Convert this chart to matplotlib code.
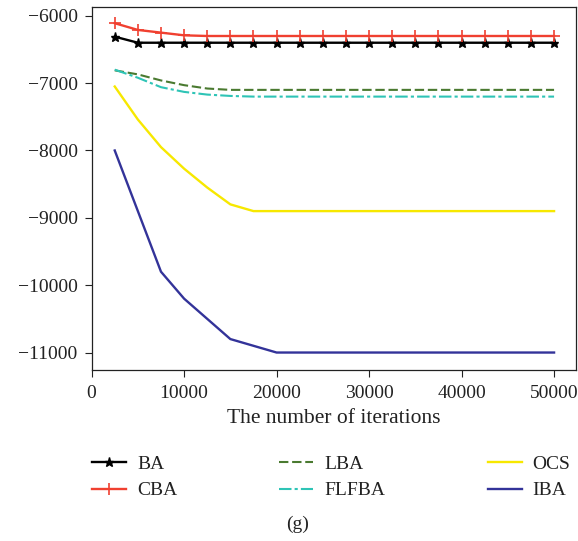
import matplotlib
matplotlib.use("Agg")
import matplotlib.pyplot as plt

plt.rcParams['font.family'] = ['Liberation Serif', 'DejaVu Serif']
plt.rcParams['mathtext.fontset'] = 'stix'

iterations = [2500 * i for i in range(1, 21)]

ba = [-6310] + [-6400] * 19
cba = [-6110, -6210, -6250, -6290] + [-6300] * 16
lba = [-6810, -6870, -6960, -7030, -7080, -7100] + [-7100] * 14
flfba = [-6800, -6920, -7060, -7130, -7170, -7190] + [-7200] * 14
ocs = [-7050, -7540, -7950, -8270, -8550, -8800, -8900] + [-8900] * 13
iba = [-8000, -8900, -9800, -10200, -10500, -10800, -10900, -11000] + [-11000] * 12

fig = plt.figure(figsize=(5.78, 5.41), dpi=100)
ax = fig.add_axes([0.1585, 0.316, 0.8385, 0.671])

ax.plot(iterations, ba, color='black', lw=1.7, marker='*', ms=6.5, label='BA')
ax.plot(iterations, cba, color='#f04030', lw=1.7, marker='+', ms=8, mew=1.2, label='CBA')
ax.plot(iterations, lba, color='#4a7a30', lw=1.5, ls=(0, (4.5, 1.8)), label='LBA')
ax.plot(iterations, flfba, color='#2ec4b6', lw=1.5, ls=(0, (6, 1.5, 1.5, 1.5)), label='FLFBA')
ax.plot(iterations, ocs, color='#f7e800', lw=1.7, label='OCS')
ax.plot(iterations, iba, color='#333399', lw=1.7, label='IBA')

ax.set_xlim(0, 52400)
ax.set_ylim(-11260, -5870)
ax.set_xticks([0, 10000, 20000, 30000, 40000, 50000])
ax.set_xticklabels(['0', '10000', '20000', '30000', '40000', '50000'])
ax.set_yticks([-6000, -7000, -8000, -9000, -10000, -11000])
ax.set_yticklabels(['\u22126000', '\u22127000', '\u22128000', '\u22129000', '\u221210000', '\u221211000'])
ax.tick_params(direction='out', length=5, width=0.8, labelsize=14, colors='#222222')
ax.tick_params(axis='x', pad=6)
ax.tick_params(axis='y', pad=5)
for s in ax.spines.values():
    s.set_linewidth(0.9)
    s.set_color('#222222')

ax.set_xlabel('The number of iterations', fontsize=15.5, color='#222222', labelpad=5)

leg = fig.legend(loc='upper left', bbox_to_anchor=(0.159, 0.158), ncol=3, frameon=False,
                 fontsize=14, handlelength=1.75, handletextpad=0.57, borderpad=0,
                 borderaxespad=0, columnspacing=5.25, labelspacing=0.45)
for t in leg.get_texts():
    t.set_color('#222222')

fig.text(0.514, 0.03, '(g)', ha='center', va='center', fontsize=14, color='#222222')

fig.savefig('out.png', dpi=100)
